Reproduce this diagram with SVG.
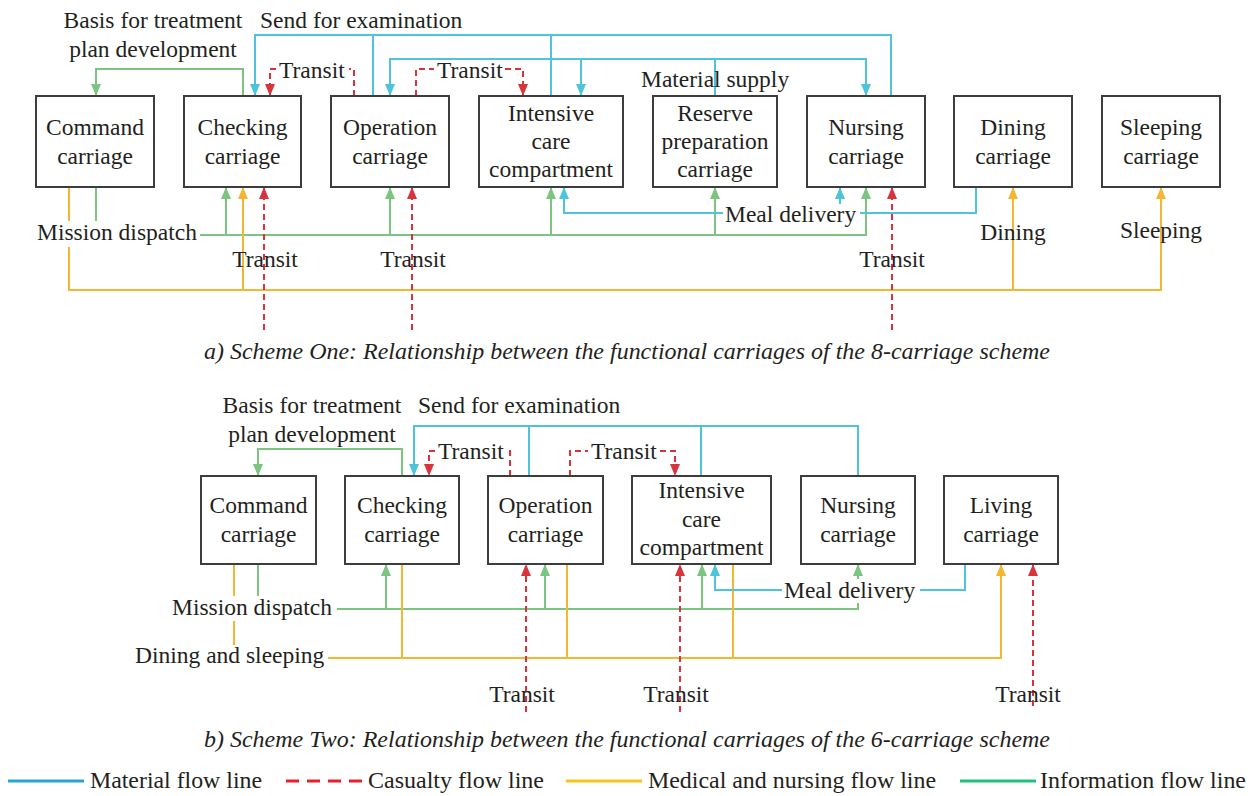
<svg xmlns="http://www.w3.org/2000/svg" width="1255" height="796" viewBox="0 0 1255 796">
<style>
.box{fill:#fff;stroke:#3d3d3d;stroke-width:2}
.t{font-family:"Liberation Serif","Times New Roman",serif;font-size:23.5px;fill:#231f20}
.m{text-anchor:middle}
.c{fill:none;stroke-width:2}
.cy{stroke:#4dc4dc}
.gr{stroke:#7cc47f}
.ye{stroke:#f5b731}
.rd{stroke:#d9343c;stroke-dasharray:6 4}
.bg{fill:#fff}
.cap{font-family:"Liberation Serif","Times New Roman",serif;font-size:23px;font-style:italic;fill:#231f20}
.lg{font-family:"Liberation Serif","Times New Roman",serif;font-size:23px;fill:#231f20}
</style>
<defs>
<marker id="acy" markerUnits="userSpaceOnUse" markerWidth="12" markerHeight="10" viewBox="0 0 12 10" refX="12" refY="5" orient="auto"><path d="M0,0L12,5L0,10z" fill="#4dc4dc"/></marker>
<marker id="agr" markerUnits="userSpaceOnUse" markerWidth="12" markerHeight="10" viewBox="0 0 12 10" refX="12" refY="5" orient="auto"><path d="M0,0L12,5L0,10z" fill="#7cc47f"/></marker>
<marker id="aye" markerUnits="userSpaceOnUse" markerWidth="12" markerHeight="10" viewBox="0 0 12 10" refX="12" refY="5" orient="auto"><path d="M0,0L12,5L0,10z" fill="#f5b731"/></marker>
<marker id="ard" markerUnits="userSpaceOnUse" markerWidth="12" markerHeight="10" viewBox="0 0 12 10" refX="12" refY="5" orient="auto"><path d="M0,0L12,5L0,10z" fill="#d9343c"/></marker>
</defs>
<rect width="1255" height="796" fill="#fff"/>

<g id="connectors">
<!-- Scheme a -->
<path class="c gr" d="M243,96V69H96V96" marker-end="url(#agr)"/>
<path class="c cy" d="M891,96V35H255V96" marker-end="url(#acy)"/>
<path class="c cy" d="M373,96V35M551,96V35"/>
<path class="c cy" d="M715,96V59H390V96" marker-end="url(#acy)"/>
<path class="c cy" d="M715,59H866V96" marker-end="url(#acy)"/>
<path class="c cy" d="M581,59V96" marker-end="url(#acy)"/>
<path class="c rd" d="M354,96V69H349"/>
<path class="c rd" d="M276,69H270V96" marker-end="url(#ard)"/>
<path class="c rd" d="M416,96V69H434"/>
<path class="c rd" d="M505,69H523V96" marker-end="url(#ard)"/>
<path class="c gr" d="M96,187V235H866V187" marker-end="url(#agr)"/>
<path class="c gr" d="M226,235V187" marker-end="url(#agr)"/>
<path class="c gr" d="M390,235V187" marker-end="url(#agr)"/>
<path class="c gr" d="M551,235V187" marker-end="url(#agr)"/>
<path class="c gr" d="M715,235V187" marker-end="url(#agr)"/>
<path class="c ye" d="M69,187V290H1161V187" marker-end="url(#aye)"/>
<path class="c ye" d="M243,290V187" marker-end="url(#aye)"/>
<path class="c ye" d="M1013,290V187" marker-end="url(#aye)"/>
<path class="c cy" d="M976,187V213H564V187" marker-end="url(#acy)"/>
<path class="c cy" d="M840,204V187" marker-end="url(#acy)"/>
<path class="c rd" d="M264,330V187" marker-end="url(#ard)"/>
<path class="c rd" d="M412,330V187" marker-end="url(#ard)"/>
<path class="c rd" d="M892,330V187" marker-end="url(#ard)"/>
<!-- Scheme b -->
<path class="c gr" d="M402,476V449H258V476" marker-end="url(#agr)"/>
<path class="c cy" d="M858,476V426H414V476" marker-end="url(#acy)"/>
<path class="c cy" d="M529,476V426M701,476V426"/>
<path class="c rd" d="M510,476V451H505"/>
<path class="c rd" d="M435,451H429V476" marker-end="url(#ard)"/>
<path class="c rd" d="M570,476V451H588"/>
<path class="c rd" d="M660,451H675V476" marker-end="url(#ard)"/>
<path class="c gr" d="M258,564V609H858V564" marker-end="url(#agr)"/>
<path class="c gr" d="M386,609V564" marker-end="url(#agr)"/>
<path class="c gr" d="M545,609V564" marker-end="url(#agr)"/>
<path class="c gr" d="M702,609V564" marker-end="url(#agr)"/>
<path class="c ye" d="M234,564V658H1001V564" marker-end="url(#aye)"/>
<path class="c ye" d="M402,564V658M567,564V658M733,564V658"/>
<path class="c cy" d="M965,564V590H715V564" marker-end="url(#acy)"/>
<path class="c rd" d="M526,712V564" marker-end="url(#ard)"/>
<path class="c rd" d="M680,712V564" marker-end="url(#ard)"/>
<path class="c rd" d="M1033,706V564" marker-end="url(#ard)"/>
</g>

<g id="labels">
<text class="t m" x="153" y="28">Basis for treatment</text>
<text class="t m" x="153" y="57">plan development</text>
<text class="t" x="260" y="28">Send for examination</text>
<text class="t" x="279" y="78">Transit</text>
<text class="t" x="437" y="78">Transit</text>
<text class="t" x="641" y="87">Material supply</text>
<rect class="bg" x="34" y="221" width="166" height="26"/>
<text class="t" x="37" y="240">Mission dispatch</text>
<rect class="bg" x="723" y="204" width="137" height="24"/>
<text class="t" x="725" y="222">Meal delivery</text>
<text class="t m" x="1013" y="240">Dining</text>
<text class="t m" x="1161" y="238">Sleeping</text>
<text class="t m" x="265" y="267">Transit</text>
<text class="t m" x="413" y="267">Transit</text>
<text class="t m" x="892" y="267">Transit</text>
<text class="cap m" x="627" y="359" textLength="846" lengthAdjust="spacingAndGlyphs">a) Scheme One: Relationship between the functional carriages of the 8-carriage scheme</text>

<text class="t m" x="312" y="413">Basis for treatment</text>
<text class="t m" x="312" y="442">plan development</text>
<text class="t" x="418" y="413">Send for examination</text>
<text class="t" x="438" y="459">Transit</text>
<text class="t" x="591" y="459">Transit</text>
<rect class="bg" x="169" y="596" width="168" height="25"/>
<text class="t" x="172" y="615">Mission dispatch</text>
<rect class="bg" x="132" y="645" width="196" height="25"/>
<text class="t" x="135" y="663">Dining and sleeping</text>
<rect class="bg" x="782" y="579" width="138" height="24"/>
<text class="t" x="784" y="598">Meal delivery</text>
<text class="t m" x="522" y="702">Transit</text>
<text class="t m" x="676" y="702">Transit</text>
<text class="t m" x="1028" y="702">Transit</text>
<text class="cap m" x="627" y="747" textLength="846" lengthAdjust="spacingAndGlyphs">b) Scheme Two: Relationship between the functional carriages of the 6-carriage scheme</text>
</g>

<g id="a-command"><rect class="box" x="36" y="96" width="118" height="91"/><text class="t m" x="95" y="135">Command</text><text class="t m" x="95" y="164">carriage</text></g>
<g id="a-checking"><rect class="box" x="184" y="96" width="117" height="91"/><text class="t m" x="242.5" y="135">Checking</text><text class="t m" x="242.5" y="164">carriage</text></g>
<g id="a-operation"><rect class="box" x="331" y="96" width="118" height="91"/><text class="t m" x="390" y="135">Operation</text><text class="t m" x="390" y="164">carriage</text></g>
<g id="a-intensive"><rect class="box" x="479" y="96" width="144" height="91"/><text class="t m" x="551" y="121">Intensive</text><text class="t m" x="551" y="149">care</text><text class="t m" x="551" y="177">compartment</text></g>
<g id="a-reserve"><rect class="box" x="653" y="96" width="124" height="91"/><text class="t m" x="715" y="121">Reserve</text><text class="t m" x="715" y="149">preparation</text><text class="t m" x="715" y="177">carriage</text></g>
<g id="a-nursing"><rect class="box" x="807" y="96" width="118" height="91"/><text class="t m" x="866" y="135">Nursing</text><text class="t m" x="866" y="164">carriage</text></g>
<g id="a-dining"><rect class="box" x="954" y="96" width="118" height="91"/><text class="t m" x="1013" y="135">Dining</text><text class="t m" x="1013" y="164">carriage</text></g>
<g id="a-sleeping"><rect class="box" x="1102" y="96" width="118" height="91"/><text class="t m" x="1161" y="135">Sleeping</text><text class="t m" x="1161" y="164">carriage</text></g>

<g id="b-command"><rect class="box" x="201" y="476" width="115" height="88"/><text class="t m" x="258.5" y="513">Command</text><text class="t m" x="258.5" y="542">carriage</text></g>
<g id="b-checking"><rect class="box" x="345" y="476" width="114" height="88"/><text class="t m" x="402" y="513">Checking</text><text class="t m" x="402" y="542">carriage</text></g>
<g id="b-operation"><rect class="box" x="488" y="476" width="115" height="88"/><text class="t m" x="545.5" y="513">Operation</text><text class="t m" x="545.5" y="542">carriage</text></g>
<g id="b-intensive"><rect class="box" x="632" y="476" width="139" height="88"/><text class="t m" x="701.5" y="498">Intensive</text><text class="t m" x="701.5" y="527">care</text><text class="t m" x="701.5" y="555">compartment</text></g>
<g id="b-nursing"><rect class="box" x="801" y="476" width="114" height="88"/><text class="t m" x="858" y="513">Nursing</text><text class="t m" x="858" y="542">carriage</text></g>
<g id="b-living"><rect class="box" x="944" y="476" width="114" height="88"/><text class="t m" x="1001" y="513">Living</text><text class="t m" x="1001" y="542">carriage</text></g>

<g id="legend">
<line x1="8" y1="781" x2="84" y2="781" stroke="#2aa3da" stroke-width="3"/>
<text class="lg" x="90" y="788" textLength="172" lengthAdjust="spacingAndGlyphs">Material flow line</text>
<line x1="286" y1="781" x2="362" y2="781" stroke="#e8202a" stroke-width="3" stroke-dasharray="13 8"/>
<text class="lg" x="368" y="788" textLength="176" lengthAdjust="spacingAndGlyphs">Casualty flow line</text>
<line x1="566" y1="781" x2="642" y2="781" stroke="#f5c518" stroke-width="3"/>
<text class="lg" x="648" y="788" textLength="288" lengthAdjust="spacingAndGlyphs">Medical and nursing flow line</text>
<line x1="960" y1="781" x2="1036" y2="781" stroke="#1ec07a" stroke-width="3"/>
<text class="lg" x="1040" y="788" textLength="206" lengthAdjust="spacingAndGlyphs">Information flow line</text>
</g>
</svg>
